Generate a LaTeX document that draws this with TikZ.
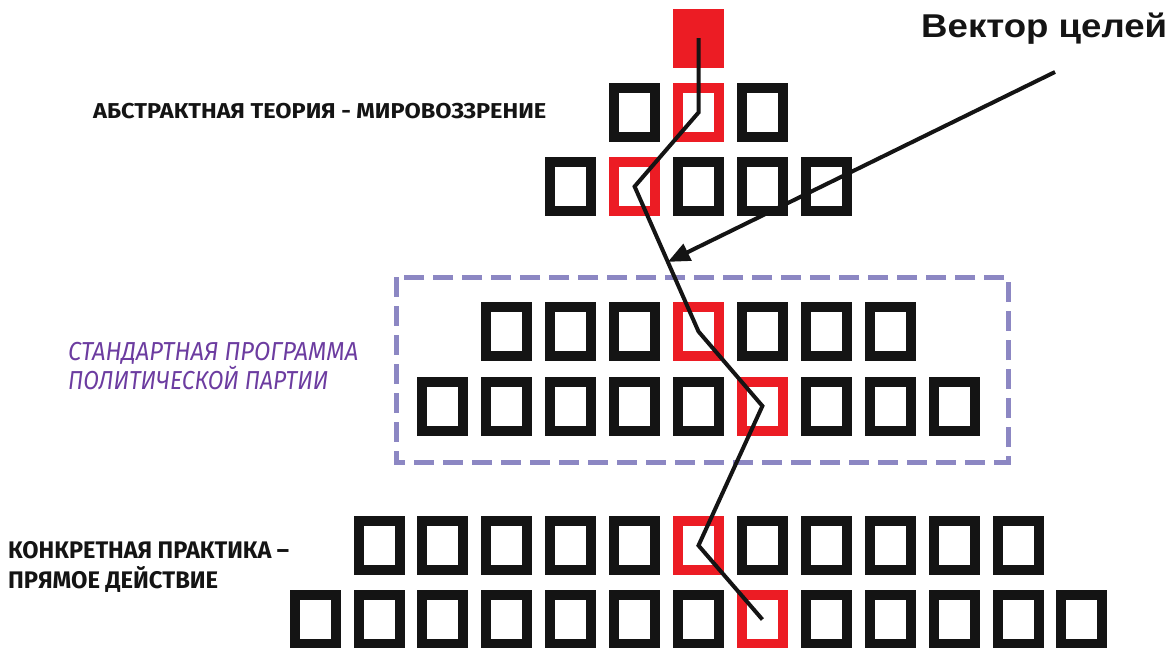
\documentclass[tikz,border=0pt]{standalone}
\usepackage{fontspec}
\setmainfont{Liberation Sans}
\newfontfamily\condfont{Fira Sans}
\usetikzlibrary{calc, arrows.meta}
\definecolor{ink}{RGB}{20,20,20}
\definecolor{vred}{RGB}{236,28,36}
\definecolor{lav}{RGB}{140,135,195}
\definecolor{purp}{RGB}{108,60,160}
% squeeze a line of text to a given width, height kept
\newcommand\squeeze[2]{\resizebox{#1}{\height}{#2}}
\tikzset{
  sq/.style={draw=ink, line width=10pt, minimum width=41pt, minimum height=49pt, inner sep=0pt, outer sep=0pt},
  vec/.style={ink, line width=4pt},
  lbl/.style={anchor=base west, inner sep=0pt, ink},
}
\begin{document}
\begin{tikzpicture}[x=1pt, y=-1pt]
  \useasboundingbox (0,0) rectangle (1176,648);
  % top square
  \node[fill=vred, minimum width=51pt, minimum height=59pt, inner sep=0pt] (r0) at (698.5,38) {};
  % rows: row/number/y/red index
  \foreach \r/\n/\y/\k in {1/3/112.5/1, 2/5/186.5/1, 3/7/331.5/3, 4/9/406/5, 5/11/545.5/5, 6/13/619.5/7}
  {
    \pgfmathtruncatemacro\last{\n-1}
    \foreach \i in {0,...,\last}
    {
      \pgfmathsetmacro\x{698.5+(\i-\last/2)*63.9}
      \ifnum\i=\k
        \node[sq, draw=vred] (r\r) at (\x,\y) {};
      \else
        \node[sq] (q\r-\i) at (\x,\y) {};
      \fi
    }
  }
  % party program box
  \draw[lav, line width=5pt, dash pattern=on 20pt off 9pt] (396,277) rectangle (1008,462);
  % goal vector
  \draw[vec] (r0.center) -- (r1.center) -- (r2.center) -- (r3.center) -- (r4.center) -- (r5.center) -- (r6.center);
  \coordinate (tail) at (1055,72);
  \draw[vec, ->, >={Triangle[length=22pt, width=18pt]}] (tail) -- ($(r2.center)!0.52!(r3.center)$);
  \node[lbl, font=\bfseries\fontsize{33}{38}\selectfont] (goal) at (921,37) {\squeeze{246pt}{Вектор целей}};
  % labels
  \node[lbl, font=\condfont\bfseries\fontsize{21.5}{25}\selectfont] (abs) at (93,118.5) {\squeeze{453pt}{АБСТРАКТНАЯ ТЕОРИЯ - МИРОВОЗЗРЕНИЕ}};
  \node[lbl, purp, font=\condfont\itshape\fontsize{26}{30}\selectfont] (std1) at (68,360) {\squeeze{290pt}{СТАНДАРТНАЯ ПРОГРАММА}};
  \node[lbl, purp, font=\condfont\itshape\fontsize{26}{30}\selectfont] (std2) at (68,389) {\squeeze{260pt}{ПОЛИТИЧЕСКОЙ ПАРТИИ}};
  \node[lbl, font=\condfont\bfseries\fontsize{24}{28}\selectfont] (act1) at (8,558) {\squeeze{281pt}{КОНКРЕТНАЯ ПРАКТИКА –}};
  \node[lbl, font=\condfont\bfseries\fontsize{24}{28}\selectfont] (act2) at (8,588) {\squeeze{210pt}{ПРЯМОЕ ДЕЙСТВИЕ}};
\end{tikzpicture}
\end{document}
